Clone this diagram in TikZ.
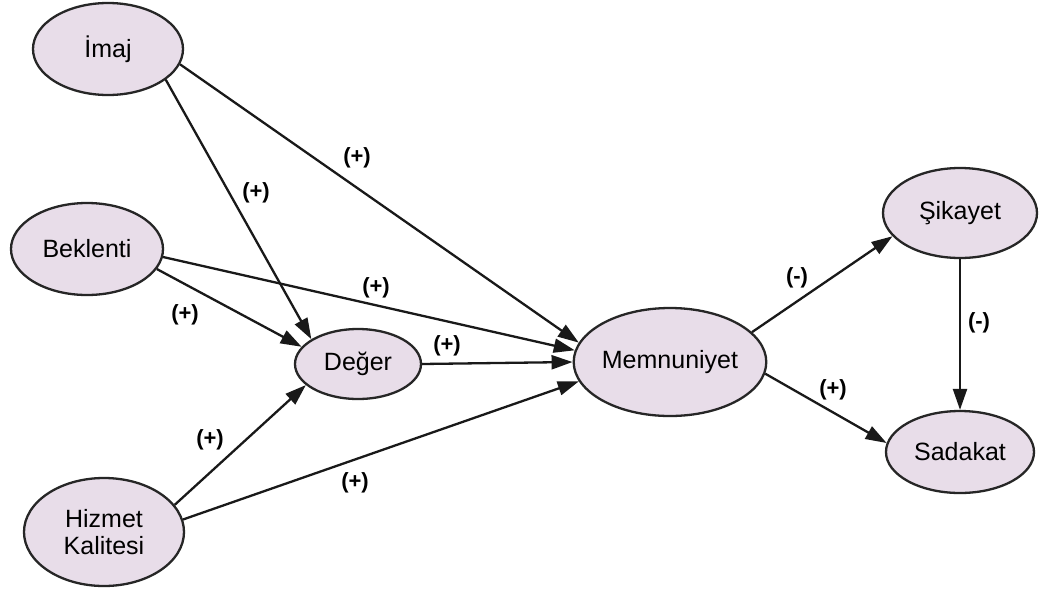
\documentclass[tikz,border=0pt]{standalone}
\usepackage{fontspec}
\setmainfont{Liberation Sans}
\usetikzlibrary{arrows.meta,shapes.geometric}
\definecolor{nodefill}{RGB}{232,221,233}
\begin{document}
\begin{tikzpicture}[x=1pt,y=-1pt,
  var/.style={ellipse, draw=black!85, line width=2.3pt, fill=nodefill, inner sep=0pt,
    font=\fontsize{25}{27}\selectfont, align=center},
  link/.style={line width=2.3pt, draw=black!90, -{Triangle[length=21pt,width=14pt]}},
  sign/.style={font=\bfseries\fontsize{22}{24}\selectfont, inner sep=0pt}]
\useasboundingbox (0,0) rectangle (1041,592);
\fill[white] (0,0) rectangle (1041,592);
\node[var, minimum width=150pt, minimum height=92pt] (imaj) at (108,49) {İmaj};
\node[var, minimum width=152pt, minimum height=92pt] (bekl) at (87,249) {Beklenti};
\node[var, minimum width=160pt, minimum height=108pt] (hiz) at (104,532) {Hizmet\\Kalitesi};
\node[var, minimum width=126pt, minimum height=70pt] (deger) at (358,364) {Değer};
\node[var, minimum width=180pt, minimum height=108pt] (memn) at (670,362) {Memnuniyet};
\node[var, minimum width=154pt, minimum height=90pt] (sik) at (960,213) {Şikayet};
\node[var, minimum width=148pt, minimum height=82pt] (sad) at (960,452) {Sadakat};

\draw[link] (imaj.-28) -- (deger.152);
\draw[link] (imaj.-12) -- (memn.168);
\draw[link] (bekl.-16) -- (deger.163);
\draw[link] (bekl.-6) -- (memn.173);
\draw[link] (deger.east) -- (memn.west);
\draw[link] (hiz.21) -- (deger.-158);
\draw[link] (hiz.9) -- (memn.-168);
\draw[link] (memn.20) -- (sik.-161);
\draw[link] (memn.-7) -- (sad.173);
\draw[link] (sik.south) -- (sad.north);

\node[sign] (l1) at (256,193) {(+)};
\node[sign] (l2) at (357,158) {(+)};
\node[sign] (l3) at (185,315) {(+)};
\node[sign] (l4) at (376,288) {(+)};
\node[sign] (l5) at (447,346) {(+)};
\node[sign] (l6) at (210,440) {(+)};
\node[sign] (l7) at (355,483) {(+)};
\node[sign] (l8) at (797,278) {(-)};
\node[sign] (l9) at (833,390) {(+)};
\node[sign] (l10) at (979,323) {(-)};
\end{tikzpicture}
\end{document}
